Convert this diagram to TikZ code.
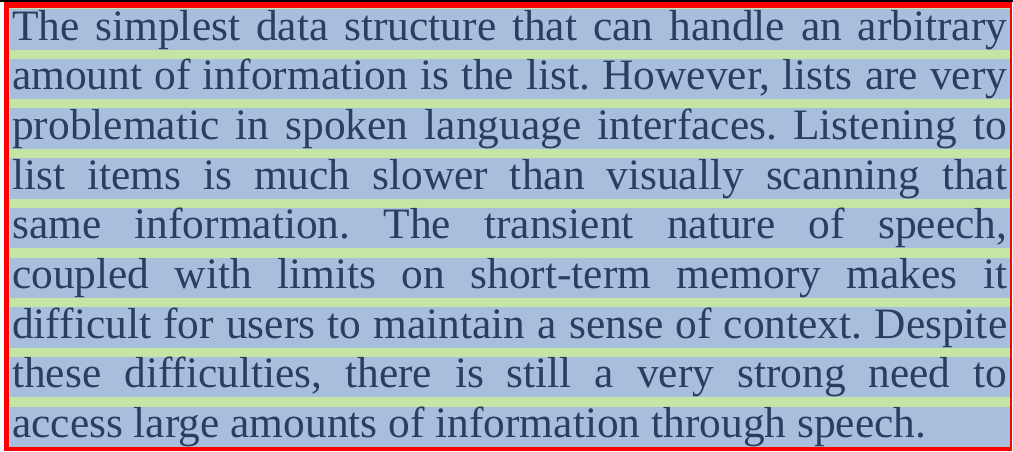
\documentclass[tikz,border=0pt]{standalone}
\usepackage{fontspec}
\setmainfont[Ligatures=CommonOff]{Liberation Serif}
\definecolor{bandblue}{RGB}{167,190,220}
\definecolor{gapgreen}{RGB}{197,229,165}
\definecolor{inkblue}{RGB}{42,63,96}
\begin{document}
\frenchspacing
\begin{tikzpicture}[x=1pt, y=1pt,
  textrow/.style={anchor=base west, inner sep=0pt, text=inkblue,
    font=\fontsize{43.4}{43.4}\selectfont}]

  \newcommand\Lh{49.7}
  \newcommand\Lw{995pt}

  \useasboundingbox (0,0) rectangle (1013,-451);

  %% frame
  \fill[black] (0,0) rectangle (1013,-2);
  \fill[red] (4,-2) rectangle (1012,-451);
  \fill[gapgreen] (9,-8) rectangle (1010,-447);

  %% line bands
  \foreach \k in {0,...,8}
    \fill[bandblue] (10,-9-\k*\Lh) rectangle (1010,-49.5-\k*\Lh);

  \node[textrow] (l1) at (12,-40-0*\Lh) {\makebox[\Lw][s]{The simplest data structure that can handle an arbitrary}};
  \node[textrow] (l2) at (12,-40-1*\Lh) {\makebox[\Lw][s]{amount of information is the list. However, lists are very}};
  \node[textrow] (l3) at (12,-40-2*\Lh) {\makebox[\Lw][s]{problematic in spoken language interfaces. Listening to}};
  \node[textrow] (l4) at (12,-40-3*\Lh) {\makebox[\Lw][s]{list items is much slower than visually scanning that}};
  \node[textrow] (l5) at (12,-40-4*\Lh) {\makebox[\Lw][s]{same information. The transient nature of speech,}};
  \node[textrow] (l6) at (12,-40-5*\Lh) {\makebox[\Lw][s]{coupled with limits on short-term memory makes it}};
  \node[textrow] (l7) at (12,-40-6*\Lh) {\makebox[\Lw][s]{difficult for users to maintain a sense of context. Despite}};
  \node[textrow] (l8) at (12,-40-7*\Lh) {\makebox[\Lw][s]{these difficulties, there is still a very strong need to}};
  \node[textrow] (l9) at (12,-40-8*\Lh) {access large amounts of information through speech.};
\end{tikzpicture}
\end{document}
